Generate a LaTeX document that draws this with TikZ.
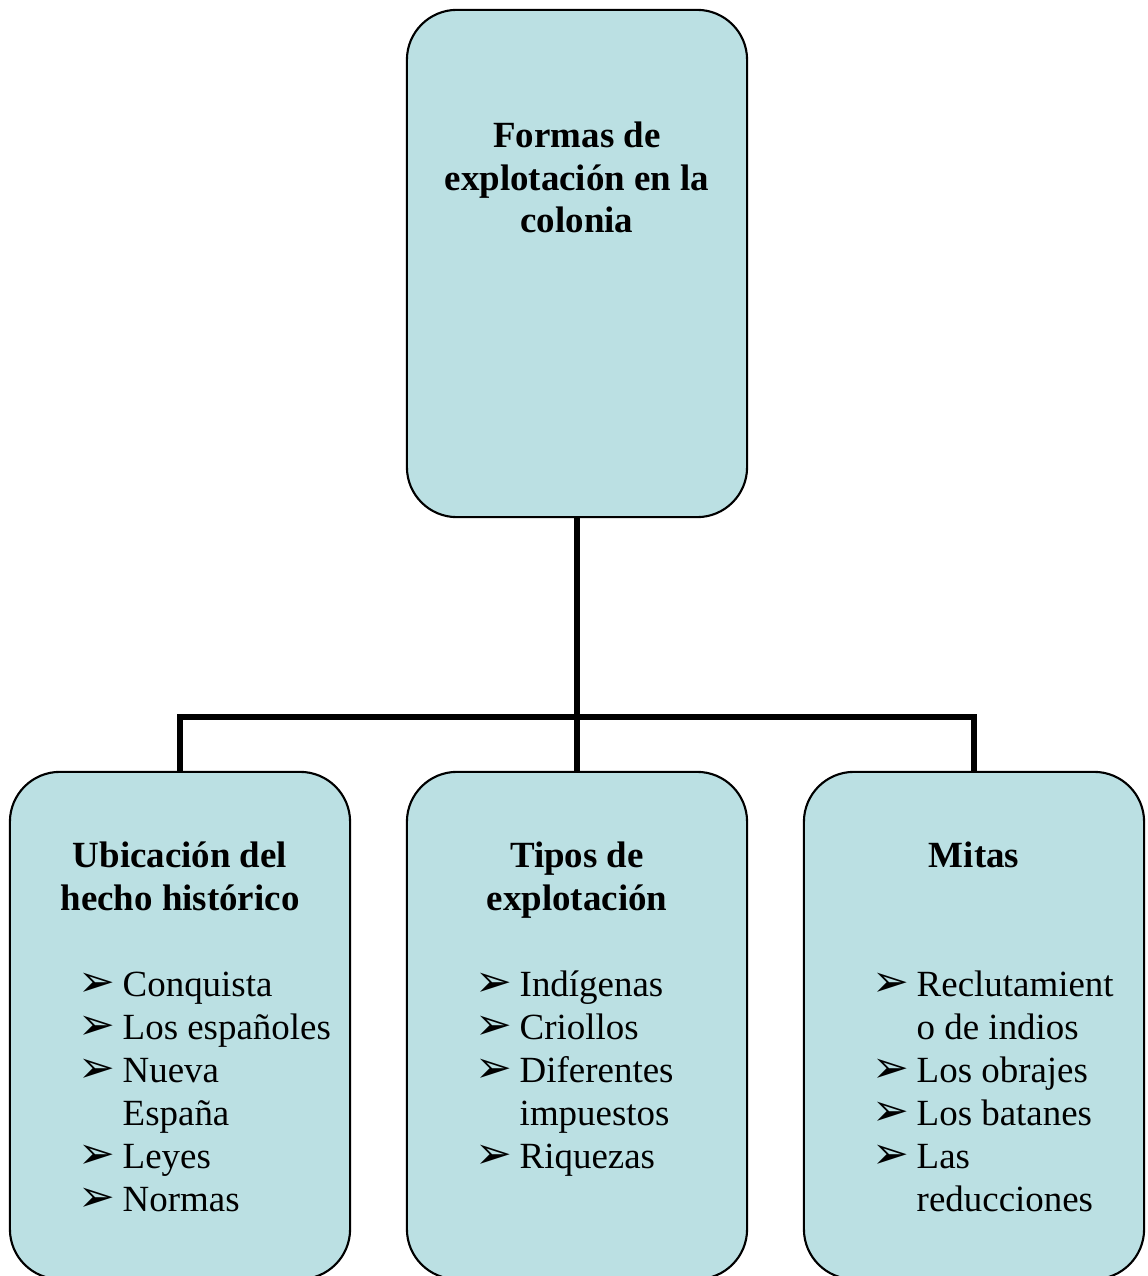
\documentclass[tikz,border=0pt]{standalone}
\usepackage{fontspec}
\setmainfont{Liberation Serif}
\newfontfamily\dejavu{DejaVu Sans}
\usetikzlibrary{positioning}
\definecolor{celeste}{RGB}{187,224,227}
\newcommand{\flecha}{\makebox[0.44cm][l]{\dejavu\fontsize{12.5}{12.2}\selectfont ➢}}
\newcommand{\sangria}{\hspace*{0.44cm}}
\tikzset{caja/.style={draw=black,line width=0.6pt,fill=celeste,rounded corners=0.5cm,minimum width=3.4cm,minimum height=5.07cm,inner sep=0pt},
 titulo/.style={font=\bfseries\fontsize{10.5}{12.2}\selectfont,align=center,inner sep=0pt},
 lista/.style={font=\fontsize{10.5}{12.2}\selectfont,align=left,inner sep=0pt,anchor=base west},
 enlace/.style={line width=1.6pt}}

\begin{document}
\begin{tikzpicture}[x=0.01cm,y=-0.01cm]
\useasboundingbox (0,0) rectangle (1147,1276);

\node[caja] (formas) at (577,263.5) {};
\node[caja] (ubic) at (180,1025.5) {};
\node[caja] (tipos) at (577,1025.5) {};
\node[caja] (mitas) at (974,1025.5) {};

\coordinate (bus) at (577,717);
\draw[enlace] (formas.south) -- (tipos.north);
\draw[enlace] (ubic.north) |- (bus) -| (mitas.north);

\node[titulo,below=1.12cm of formas.north] (tformas) {Formas de\\explotación en la\\colonia};
\node[titulo,below=0.70cm of ubic.north] (tubic) {Ubicación del\\hecho histórico};
\node[titulo,below=0.70cm of tipos.north] (ttipos) {Tipos de\\explotación};
\node[titulo,below=0.70cm of mitas.north] (tmitas) {Mitas};

% base = baseline of the last line
\node[lista] (lubic) at (78,1211)
{\flecha Conquista\\\flecha Los españoles\\\flecha Nueva\\\sangria España\\\flecha Leyes\\\flecha Normas};
\node[lista] (ltipos) at (475,1168)
{\flecha Indígenas\\\flecha Criollos\\\flecha Diferentes\\\sangria impuestos\\\flecha Riquezas};
\node[lista] (lmitas) at (872,1211)
{\flecha Reclutamient\\\sangria o de indios\\\flecha Los obrajes\\\flecha Los batanes\\\flecha Las\\\sangria reducciones};
\end{tikzpicture}
\end{document}
